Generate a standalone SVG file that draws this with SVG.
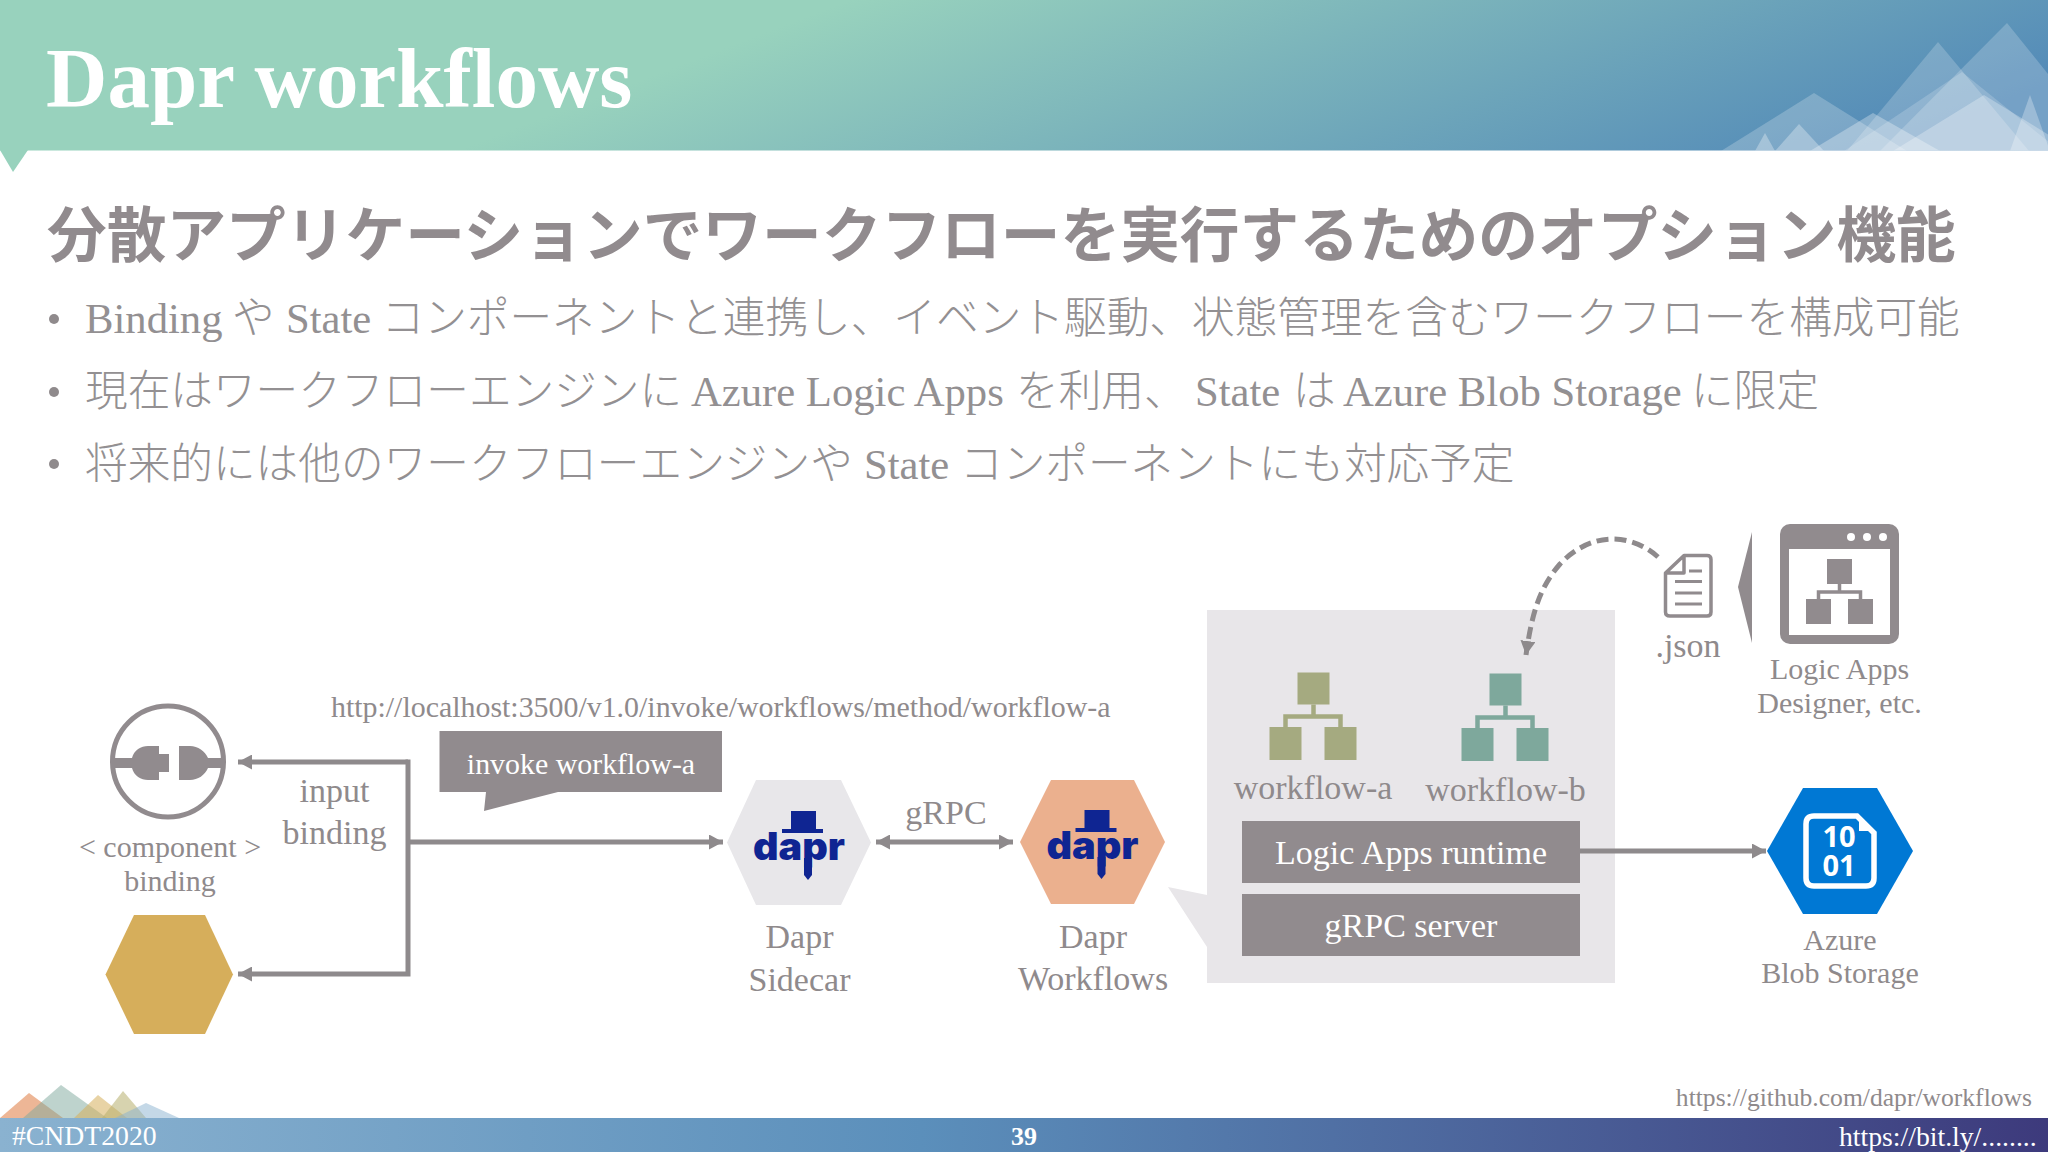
<svg xmlns="http://www.w3.org/2000/svg" xmlns:xlink="http://www.w3.org/1999/xlink" width="2048" height="1152" viewBox="0 0 2048 1152">
<style>
text{font-family:"Liberation Serif","Noto Sans CJK JP",serif;fill:#8f8a8c}
.c{text-anchor:middle}
.w{fill:#fff}
.sub{font-family:"Noto Sans CJK JP",sans-serif;font-weight:700;font-size:59.7px;fill:#918b8e}
.b{font-size:42.67px;font-weight:300;fill:#939092}
.s29{font-size:30px}
.s33{font-size:34px}
.dapr{font-family:Inter,"Liberation Sans",sans-serif;font-weight:900;font-size:38px;fill:#0f2592;text-anchor:middle}
.dk{fill:#918b8e}
.line{fill:none;stroke:#8e8a8c;stroke-width:5}
</style>
<defs>
<linearGradient id="hg" gradientUnits="userSpaceOnUse" x1="850" y1="0" x2="1031" y2="473">
<stop offset="0" stop-color="#98d2bd"/><stop offset="1" stop-color="#538ab8"/>
</linearGradient>
<linearGradient id="fg" gradientUnits="userSpaceOnUse" x1="0" y1="0" x2="2048" y2="0">
<stop offset="0" stop-color="#8ab2d0"/><stop offset="0.45" stop-color="#5b8fbb"/><stop offset="1" stop-color="#3d3a7c"/>
</linearGradient>
<clipPath id="hc"><rect x="0" y="0" width="2048" height="150.500"/></clipPath>
<marker id="ah" markerUnits="userSpaceOnUse" markerWidth="14" markerHeight="15" refX="14" refY="7.5" orient="auto-start-reverse"><path d="M0 0L14 7.5L0 15Z" fill="#8e8a8c"/></marker>
<g id="hat">
<path d="M791 811H816V829H823V833H782V829H791Z" fill="#0f2592"/>
<path d="M804 858H812V875L808 880L804 875Z" fill="#0f2592"/>
</g>
<g id="org"><rect x="28" y="0" width="32" height="32"/><rect x="0" y="54.500" width="32" height="33"/><rect x="55" y="54.500" width="32" height="33"/><path d="M44 32V44M16 55V44H71V55" fill="none" stroke="currentColor" stroke-width="4.500"/></g>
</defs>
<rect id="bg" width="2048" height="1152" fill="#fff"/>
<g id="header">
<rect width="2048" height="150.500" fill="url(#hg)"/>
<path d="M0 150H28L13 172Z" fill="#98d2bd"/>
<g clip-path="url(#hc)" fill="#fff">
<path d="M1721 151L1814 93L1907 151Z" opacity=".22"/>
<path d="M1755 151L1765 133L1775 151Z" opacity=".3"/>
<path d="M1775 151L1799 124L1824 151Z" opacity=".3"/>
<path d="M1810 151L1873 113L1940 151Z" opacity=".3"/>
<path d="M1847 151L1938 42L2029 151Z" opacity=".2"/>
<path d="M1880 151L2007 23L2110 151Z" opacity=".2"/>
<path d="M1844 151L1962 72L2060 151Z" opacity=".18"/>
<path d="M1893 151L1984 95L2075 151Z" opacity=".28"/>
<path d="M2010 151L2030 95L2050 151Z" opacity=".28"/>
</g>
<text x="46" y="107" class="w" font-weight="700" font-size="85">Dapr workflows</text>
</g>
<text x="47" y="257" class="sub">分散アプリケーションでワークフローを実行するためのオプション機能</text>
<g fill="#8f8a8c"><circle cx="54" cy="319" r="5"/><circle cx="54" cy="392" r="5"/><circle cx="54" cy="464" r="5"/></g>
<text y="333" class="b"><tspan x="85">Binding </tspan><tspan x="232">や </tspan><tspan x="286">State </tspan><tspan x="381.500">コンポーネントと連携し、イベント駆動、状態管理を含むワークフローを構成可能</tspan></text>
<text y="406" class="b"><tspan x="85">現在はワークフローエンジンに </tspan><tspan x="691">Azure Logic Apps </tspan><tspan x="1016">を利用、 </tspan><tspan x="1195">State </tspan><tspan x="1293">は </tspan><tspan x="1343">Azure Blob Storage </tspan><tspan x="1691">に限定</tspan></text>
<text y="479" class="b"><tspan x="85">将来的には他のワークフローエンジンや </tspan><tspan x="864">State </tspan><tspan x="960">コンポーネントにも対応予定</tspan></text>

<g id="binding-component">
<circle cx="168" cy="761.500" r="55.500" fill="none" stroke="#918b8e" stroke-width="5"/>
<path class="dk" d="M112 758H132C134 750 141 746 148 746H159V754H169V772H159V780H148C141 780 134 776 132 768H112Z"/>
<path class="dk" d="M179 746H190C198 746 205 751 208 758H224V768H208C205 775 198 780 190 780H179Z"/>
<text x="170" y="857" class="c s29">&lt; component &gt;</text>
<text x="170" y="891" class="c s29">binding</text>
</g>
<g id="binding-hex"><path d="M105.500 974.500L134 915H205L233 974.500L205 1034H134Z" fill="#d6ae5b"/></g>
<g id="input-binding">
<text x="334.500" y="802" class="c s33">input</text>
<text x="334.500" y="844" class="c s33">binding</text>
</g>
<g id="url-label"><text x="331" y="717" font-size="29.900">http://localhost:3500/v1.0/invoke/workflows/method/workflow-a</text></g>
<g id="invoke-callout">
<path class="dk" d="M439.500 731H722V792H558L484 811L486 792H439.500Z"/>
<text x="581" y="774" class="c w" font-size="29.900">invoke workflow-a</text>
</g>
<g id="dapr-sidecar">
<path d="M727 842.500L756 780H841L871 842.500L841 905H756Z" fill="#e8e7ea"/>
<use xlink:href="#hat" href="#hat"/>
<text x="799" y="860" class="dapr" textLength="92" lengthAdjust="spacingAndGlyphs">dapr</text>
<text x="799.500" y="948" class="c s33">Dapr</text>
<text x="799.500" y="991" class="c s33">Sidecar</text>
</g>
<text x="946" y="824" class="c s33">gRPC</text>
<g id="dapr-workflows">
<path d="M1020 842L1051 780H1134L1165 842L1134 904H1051Z" fill="#ebb08e"/>
<use xlink:href="#hat" href="#hat" x="293.500" y="-1"/>
<text x="1092.500" y="859" class="dapr" textLength="92" lengthAdjust="spacingAndGlyphs">dapr</text>
<text x="1093" y="948" class="c s33">Dapr</text>
<text x="1093" y="990" class="c s33">Workflows</text>
</g>
<g id="runtime-panel">
<path d="M1207 610H1615V983H1207V947L1168 887L1207 895Z" fill="#e8e6e9"/>
<g transform="translate(1269.500 672.500)" fill="#a5aa80" color="#a5aa80"><use xlink:href="#org" href="#org"/></g>
<g transform="translate(1461.500 673.500)" fill="#7ea89c" color="#7ea89c"><use xlink:href="#org" href="#org"/></g>
<text x="1313" y="799" class="c s33">workflow-a</text>
<text x="1505.500" y="801" class="c s33">workflow-b</text>
<rect class="dk" x="1242" y="821" width="338" height="62"/>
<text x="1411" y="864" class="c w s33">Logic Apps runtime</text>
<rect class="dk" x="1242" y="894" width="338" height="62"/>
<text x="1411" y="937" class="c w s33">gRPC server</text>
</g>
<g id="json-file">
<path d="M1684 555.500H1707Q1711 555.500 1711 559.500V612Q1711 616 1707 616H1670Q1665.500 616 1665.500 612V573ZM1684 555.500V573H1665.500" fill="none" stroke="#918b8e" stroke-width="3.500" stroke-linejoin="round"/>
<path d="M1689 571H1702M1675 581.500H1702M1675 593H1702M1675 604H1702" stroke="#918b8e" stroke-width="3" fill="none"/>
<text x="1688" y="657" class="c s33">.json</text>
</g>
<path id="designer-arrow" class="dk" d="M1752 532L1738 587L1752 643Z"/>
<g id="designer">
<rect class="dk" x="1780" y="524" width="119" height="120" rx="10"/>
<rect x="1789" y="549" width="101" height="86" fill="#fff"/>
<circle cx="1851" cy="537" r="4" fill="#fff"/><circle cx="1867" cy="537" r="4" fill="#fff"/><circle cx="1883" cy="537" r="4" fill="#fff"/>
<rect class="dk" x="1827" y="559" width="25" height="25"/><rect class="dk" x="1806" y="599" width="25" height="25"/><rect class="dk" x="1848" y="599" width="25" height="25"/>
<path d="M1839.500 584V592M1818.500 599V592H1860.500V599" fill="none" stroke="#918b8e" stroke-width="3.500"/>
<text x="1839.500" y="679" class="c s29">Logic Apps</text>
<text x="1839.500" y="713" class="c s29">Designer, etc.</text>
</g>
<g id="azure-blob">
<path d="M1767 851L1803 788H1877L1913 851L1877 914H1803Z" fill="#0078d4"/>
<path d="M1814 816H1857L1874 833V878Q1874 886 1866 886H1814Q1806 886 1806 878V824Q1806 816 1814 816Z" fill="none" stroke="#fff" stroke-width="5.500"/>
<path d="M1859 816L1874 831H1859Z" fill="#fff"/>
<text x="1839" y="847" class="c w" style="font-family:'Open Sans',sans-serif;font-weight:700" font-size="29">10</text>
<text x="1839" y="876" class="c w" style="font-family:'Open Sans',sans-serif;font-weight:700" font-size="29">01</text>
<text x="1840" y="950" class="c s29">Azure</text>
<text x="1840" y="983" class="c s29">Blob Storage</text>
</g>
<g id="footer">
<path d="M0 1118L29 1093L63 1118Z" fill="#e9a47c" opacity=".8"/>
<path d="M23 1118L61 1085L107 1118Z" fill="#7ea89c" opacity=".5"/>
<path d="M74 1118L98 1095L127 1118Z" fill="#d6ae5b" opacity=".55"/>
<path d="M102 1118L123 1091L146 1118Z" fill="#b6ae6e" opacity=".55"/>
<path d="M115 1118L146 1103L179 1118Z" fill="#8ab2d0" opacity=".5"/>
<text x="2032" y="1106" text-anchor="end" font-size="25.600">https://github.com/dapr/workflows</text>
<rect y="1118" width="2048" height="34" fill="url(#fg)"/>
<text x="12" y="1145" class="w" font-size="27.700">#CNDT2020</text>
<text x="1024" y="1145" class="c w" font-size="26" font-weight="700">39</text>
<text x="1839" y="1146" class="w" font-size="27.700">https://bit.ly/........</text>
</g>

<g id="connectors">
<path class="line" d="M408 762H238" marker-end="url(#ah)"/>
<path class="line" d="M408 759.500V976.500M408 974H238" marker-end="url(#ah)"/>
<path class="line" d="M408 842H723" marker-end="url(#ah)"/>
<path class="line" d="M876 842H1013" marker-start="url(#ah)" marker-end="url(#ah)"/>
<path class="line" d="M1580 851H1766" marker-end="url(#ah)"/>
<path class="line" d="M1658 557C1630 532 1590 532 1560 564C1540 587 1532 612 1526 655" stroke-dasharray="12 6" marker-end="url(#ah)"/>
</g>
</svg>
